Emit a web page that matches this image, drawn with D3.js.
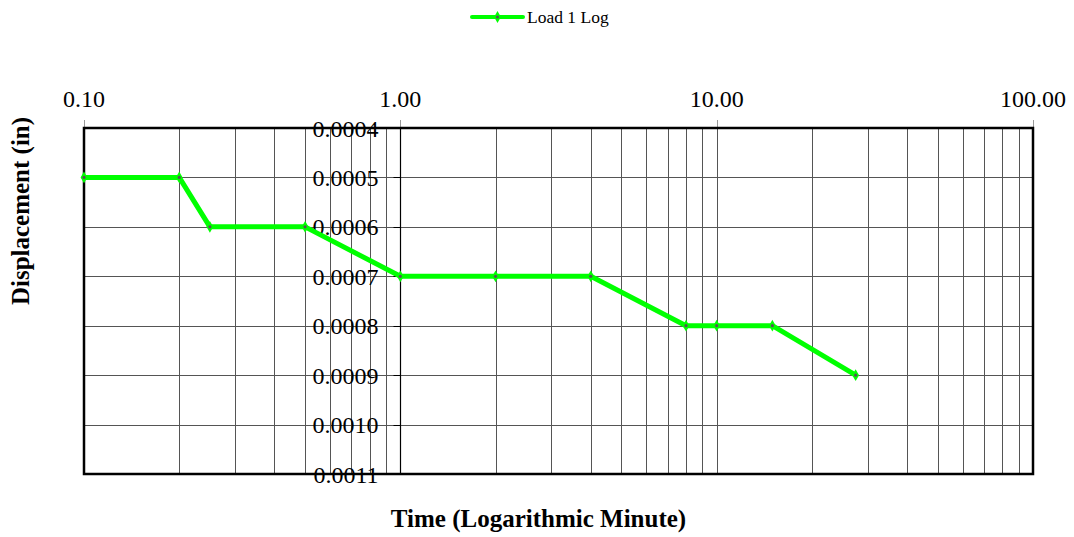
<!DOCTYPE html>
<html>
<head>
<meta charset="utf-8">
<script src="https://cdn.jsdelivr.net/npm/d3@7"></script>
<style>
  html, body { margin: 0; padding: 0; background: #fff; }
  svg { display: block; font-family: "Liberation Serif", "Times New Roman", serif; }
</style>
</head>
<body>
<div id="chart"></div>
<script>
// data
const seriesName = "Load 1 Log";
const times = [0.1, 0.2, 0.25, 0.5, 1, 2, 4, 8, 10, 15, 27.5];
const displacements = [0.0005, 0.0005, 0.0006, 0.0006, 0.0007, 0.0007, 0.0007, 0.0008, 0.0008, 0.0008, 0.0009];
const xTicks = [0.1, 1, 10, 100];
const yTicks = [0.0004, 0.0005, 0.0006, 0.0007, 0.0008, 0.0009, 0.0010, 0.0011];

const width = 1074, height = 537;
const margin = { top: 128, right: 41, bottom: 63, left: 84 };

const svg = d3.select("#chart").append("svg")
    .attr("width", width)
    .attr("height", height);

const x = d3.scaleLog()
    .domain([0.1, 100])
    .range([margin.left, width - margin.right]);

const y = d3.scaleLinear()
    .domain([0.0004, 0.0011])
    .range([margin.top, height - margin.bottom]);

const [x0, x1] = x.range();
const [y0, y1] = y.range();

/* ---------- grid ---------- */
const minor = [];
[0.1, 1, 10].forEach(dec => {
    for (let k = 2; k <= 9; k++) minor.push(k * dec);
});
minor.push(10);

const grid = svg.append("g");
grid.selectAll("line.vx")
    .data(minor)
    .join("line")
    .attr("class", "vx")
    .attr("x1", d => Math.round(x(d)) + 0.5)
    .attr("x2", d => Math.round(x(d)) + 0.5)
    .attr("y1", y0)
    .attr("y2", y1)
    .attr("stroke", "#555")
    .attr("stroke-width", 1);

grid.selectAll("line.hy")
    .data(yTicks.slice(1, -1))
    .join("line")
    .attr("class", "hy")
    .attr("x1", x0)
    .attr("x2", x1)
    .attr("y1", d => Math.round(y(d)) + 0.5)
    .attr("y2", d => Math.round(y(d)) + 0.5)
    .attr("stroke", "#555")
    .attr("stroke-width", 1);

/* ---------- top x axis (ticks + labels) ---------- */
const xAxis = svg.append("g");
xAxis.selectAll("line")
    .data(xTicks)
    .join("line")
    .attr("x1", d => Math.round(x(d)) + 0.5)
    .attr("x2", d => Math.round(x(d)) + 0.5)
    .attr("y1", y0 - 8)
    .attr("y2", y0)
    .attr("stroke", "#999")
    .attr("stroke-width", 1);

xAxis.selectAll("text")
    .data(xTicks)
    .join("text")
    .attr("x", d => x(d))
    .attr("y", y0 - 21)
    .attr("text-anchor", "middle")
    .attr("font-size", 24)
    .attr("fill", "#000")
    .text(d => d3.format(".2f")(d));

/* ---------- y axis crossing at x = 1 ---------- */
const axisX = Math.round(x(1)) + 0.5;
const yAxis = svg.append("g");
yAxis.append("line")
    .attr("x1", axisX).attr("x2", axisX)
    .attr("y1", y0).attr("y2", y1)
    .attr("stroke", "#000")
    .attr("stroke-width", 1.2);

yAxis.selectAll("line.tick")
    .data(yTicks)
    .join("line")
    .attr("class", "tick")
    .attr("x1", axisX - 7)
    .attr("x2", axisX)
    .attr("y1", d => Math.round(y(d)) + 0.5)
    .attr("y2", d => Math.round(y(d)) + 0.5)
    .attr("stroke", "#000");

yAxis.selectAll("text")
    .data(yTicks)
    .join("text")
    .attr("x", axisX - 22)
    .attr("y", d => y(d) + 8.5)
    .attr("text-anchor", "end")
    .attr("font-size", 24)
    .attr("fill", "#000")
    .text(d => d3.format(".4f")(d));

/* ---------- plot border ---------- */
svg.append("rect")
    .attr("x", x0)
    .attr("y", y0)
    .attr("width", x1 - x0)
    .attr("height", y1 - y0)
    .attr("fill", "none")
    .attr("stroke", "#000")
    .attr("stroke-width", 2.5);

/* ---------- series ---------- */
const points = times.map((t, i) => ({ t, v: displacements[i] }));

const line = d3.line()
    .x(d => x(d.t))
    .y(d => y(d.v));

svg.append("path")
    .datum(points)
    .attr("d", line)
    .attr("fill", "none")
    .attr("stroke", "#00ff00")
    .attr("stroke-width", 5)
    .attr("stroke-linejoin", "round")
    .attr("stroke-linecap", "round");

const diamond = d3.symbol().type(d3.symbolDiamond).size(40);
const markers = svg.append("g")
    .selectAll("g")
    .data(points)
    .join("g")
    .attr("transform", d => `translate(${x(d.t)},${y(d.v)})`);
markers.append("path").attr("d", diamond).attr("fill", "#00ff00");
markers.append("circle").attr("r", 1.6).attr("fill", "#555");

/* ---------- legend ---------- */
const legend = svg.append("g").attr("transform", "translate(472,17)");
legend.append("line")
    .attr("x1", 0).attr("x2", 51)
    .attr("y1", 0).attr("y2", 0)
    .attr("stroke", "#00ff00")
    .attr("stroke-width", 4)
    .attr("stroke-linecap", "round");
legend.append("path")
    .attr("transform", "translate(25.5,0)")
    .attr("d", diamond)
    .attr("fill", "#00ff00");
legend.append("circle")
    .attr("cx", 25.5).attr("r", 1.6).attr("fill", "#555");
legend.append("text")
    .attr("x", 55)
    .attr("y", 6)
    .attr("font-size", 17.5)
    .attr("fill", "#000")
    .text(seriesName);

/* ---------- axis titles ---------- */
svg.append("text")
    .attr("x", (x0 + x1) / 2 - 20)
    .attr("y", 527)
    .attr("text-anchor", "middle")
    .attr("font-size", 25)
    .attr("font-weight", "bold")
    .text("Time (Logarithmic Minute)");

svg.append("text")
    .attr("transform", `translate(29,${(y0 + y1) / 2 - 90}) rotate(-90)`)
    .attr("text-anchor", "middle")
    .attr("font-size", 25)
    .attr("font-weight", "bold")
    .text("Displacement (in)");
</script>
</body>
</html>
